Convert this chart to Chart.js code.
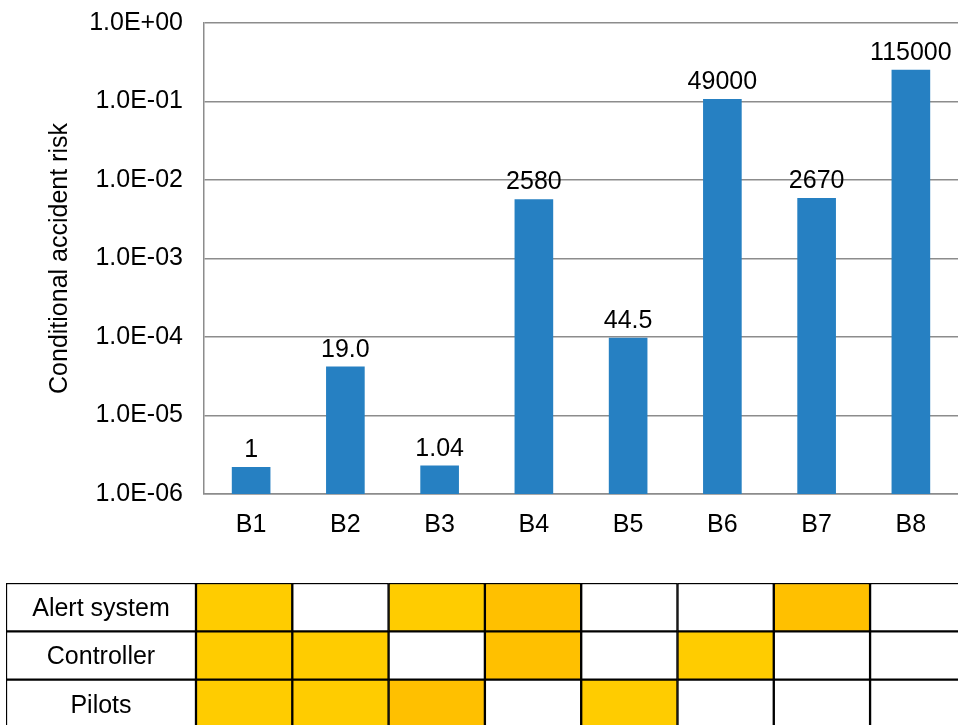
<!DOCTYPE html>
<html>
<head>
<meta charset="utf-8">
<script src="https://cdn.jsdelivr.net/npm/chart.js@4.4.1/dist/chart.umd.min.js"></script>
<style>
    body { margin: 0; background: #fff; overflow: hidden; width: 958px; height: 725px; position: relative; }
    #grafico { position: absolute; left: 0; top: 0; width: 958px; height: 560px; }
    #tabla { position: absolute; left: 0; top: 570px; width: 958px; height: 158px; }
</style>
</head>
<body>
<div id="grafico"><canvas id="cvGrafico"></canvas></div>
<div id="tabla"><canvas id="cvTabla"></canvas></div>
<script>
// datos
const categorias = ["B1", "B2", "B3", "B4", "B5", "B6", "B7", "B8"];
const riesgo = [2.2e-6, 4.2e-5, 2.3e-6, 5.7e-3, 9.8e-5, 0.108, 5.9e-3, 0.253];
const etiquetasBarra = ["1", "19.0", "1.04", "2580", "44.5", "49000", "2670", "115000"];
const ticksY = [1e-6, 1e-5, 1e-4, 1e-3, 1e-2, 1e-1, 1];

// tabla: 0 = vacio, 1 = amarillo, 2 = naranja
const filas = ["Alert system", "Controller", "Pilots"];
const celdasAlerta = [1, 0, 1, 2, 0, 0, 2, 0];
const celdasControlador = [1, 1, 0, 2, 0, 1, 0, 0];
const celdasPilotos = [1, 1, 2, 0, 1, 0, 0, 0];
const colores = ["#ffffff", "#ffcc00", "#ffc000"];

const fuente = "'Liberation Sans', Arial, sans-serif";
const tam = 25;
const gris = "#8c8c8c";

function formatoExp(v) {
    const e = Math.round(Math.log10(v));
    const s = String(Math.abs(e)).padStart(2, "0");
    return "1.0E" + (e < 0 ? "-" : "+") + s;
}

const etiquetasPlugin = {
    id: "etiquetas",
    afterDatasetsDraw(chart) {
        const ctx = chart.ctx;
        const meta = chart.getDatasetMeta(0);
        ctx.save();
        ctx.font = tam + "px " + fuente;
        ctx.fillStyle = "#000";
        ctx.textAlign = "center";
        ctx.textBaseline = "alphabetic";
        meta.data.forEach((barra, i) => {
            ctx.fillText(etiquetasBarra[i], barra.x, barra.y - 10);
        });
        ctx.restore();
    }
};

new Chart(document.getElementById("cvGrafico"), {
    type: "bar",
    data: {
        labels: categorias,
        datasets: [{
            data: riesgo,
            backgroundColor: "#2680c2",
            categoryPercentage: 1,
            barPercentage: 0.41
        }]
    },
    options: {
        responsive: true,
        maintainAspectRatio: false,
        animation: false,
        layout: { padding: { top: 23, right: 0, bottom: 0, left: 0 } },
        plugins: { legend: { display: false }, tooltip: { enabled: false } },
        scales: {
            x: {
                grid: { display: false },
                border: { display: true, color: gris, width: 1.5 },
                ticks: { color: "#000", font: { family: fuente, size: tam }, padding: 8 },
                afterFit: s => { s.height = 66; }
            },
            y: {
                type: "logarithmic",
                min: 1e-6,
                max: 1,
                grid: { color: gris, lineWidth: 1.5, drawTicks: false },
                border: { display: true, color: gris, width: 1.5 },
                ticks: {
                    color: "#000",
                    font: { family: fuente, size: tam },
                    padding: 21,
                    callback: v => formatoExp(v)
                },
                afterBuildTicks: s => { s.ticks = ticksY.map(v => ({ value: v })); },
                afterFit: s => { s.width = 204; s.paddingTop = 0; s.paddingBottom = 0; },
                title: {
                    display: true,
                    text: "Conditional accident risk",
                    color: "#000",
                    font: { family: fuente, size: tam },
                    padding: { top: 45, bottom: 0 }
                }
            }
        }
    },
    plugins: [etiquetasPlugin]
});

// tabla dibujada con barras flotantes
const anchoEtiqueta = 1.973;
const celdas = [celdasAlerta, celdasControlador, celdasPilotos];
const conjuntos = [{
    data: filas.map(() => [-anchoEtiqueta, 0]),
    backgroundColor: "#ffffff"
}];
categorias.forEach((c, j) => {
    conjuntos.push({
        data: filas.map(() => [j, j + 1]),
        backgroundColor: celdas.map(f => colores[f[j]])
    });
});
conjuntos.forEach(d => {
    d.borderColor = "#000";
    d.borderWidth = 1.5;
    d.borderSkipped = false;
    d.categoryPercentage = 1;
    d.barPercentage = 1;
    d.grouped = false;
});

const textoFilas = {
    id: "textoFilas",
    afterDatasetsDraw(chart) {
        const ctx = chart.ctx;
        const meta = chart.getDatasetMeta(0);
        ctx.save();
        ctx.font = tam + "px " + fuente;
        ctx.fillStyle = "#000";
        ctx.textAlign = "center";
        ctx.textBaseline = "middle";
        meta.data.forEach((celda, i) => {
            ctx.fillText(filas[i], (celda.x + celda.base) / 2, celda.y + 2);
        });
        ctx.restore();
    }
};

new Chart(document.getElementById("cvTabla"), {
    type: "bar",
    data: { labels: filas, datasets: conjuntos },
    options: {
        indexAxis: "y",
        responsive: true,
        maintainAspectRatio: false,
        animation: false,
        layout: { padding: { top: 13, left: 6, right: 0, bottom: 0 } },
        plugins: { legend: { display: false }, tooltip: { enabled: false } },
        scales: {
            x: { type: "linear", min: -anchoEtiqueta, max: 7.913, display: false },
            y: { display: false }
        }
    },
    plugins: [textoFilas]
});
</script>
</body>
</html>
